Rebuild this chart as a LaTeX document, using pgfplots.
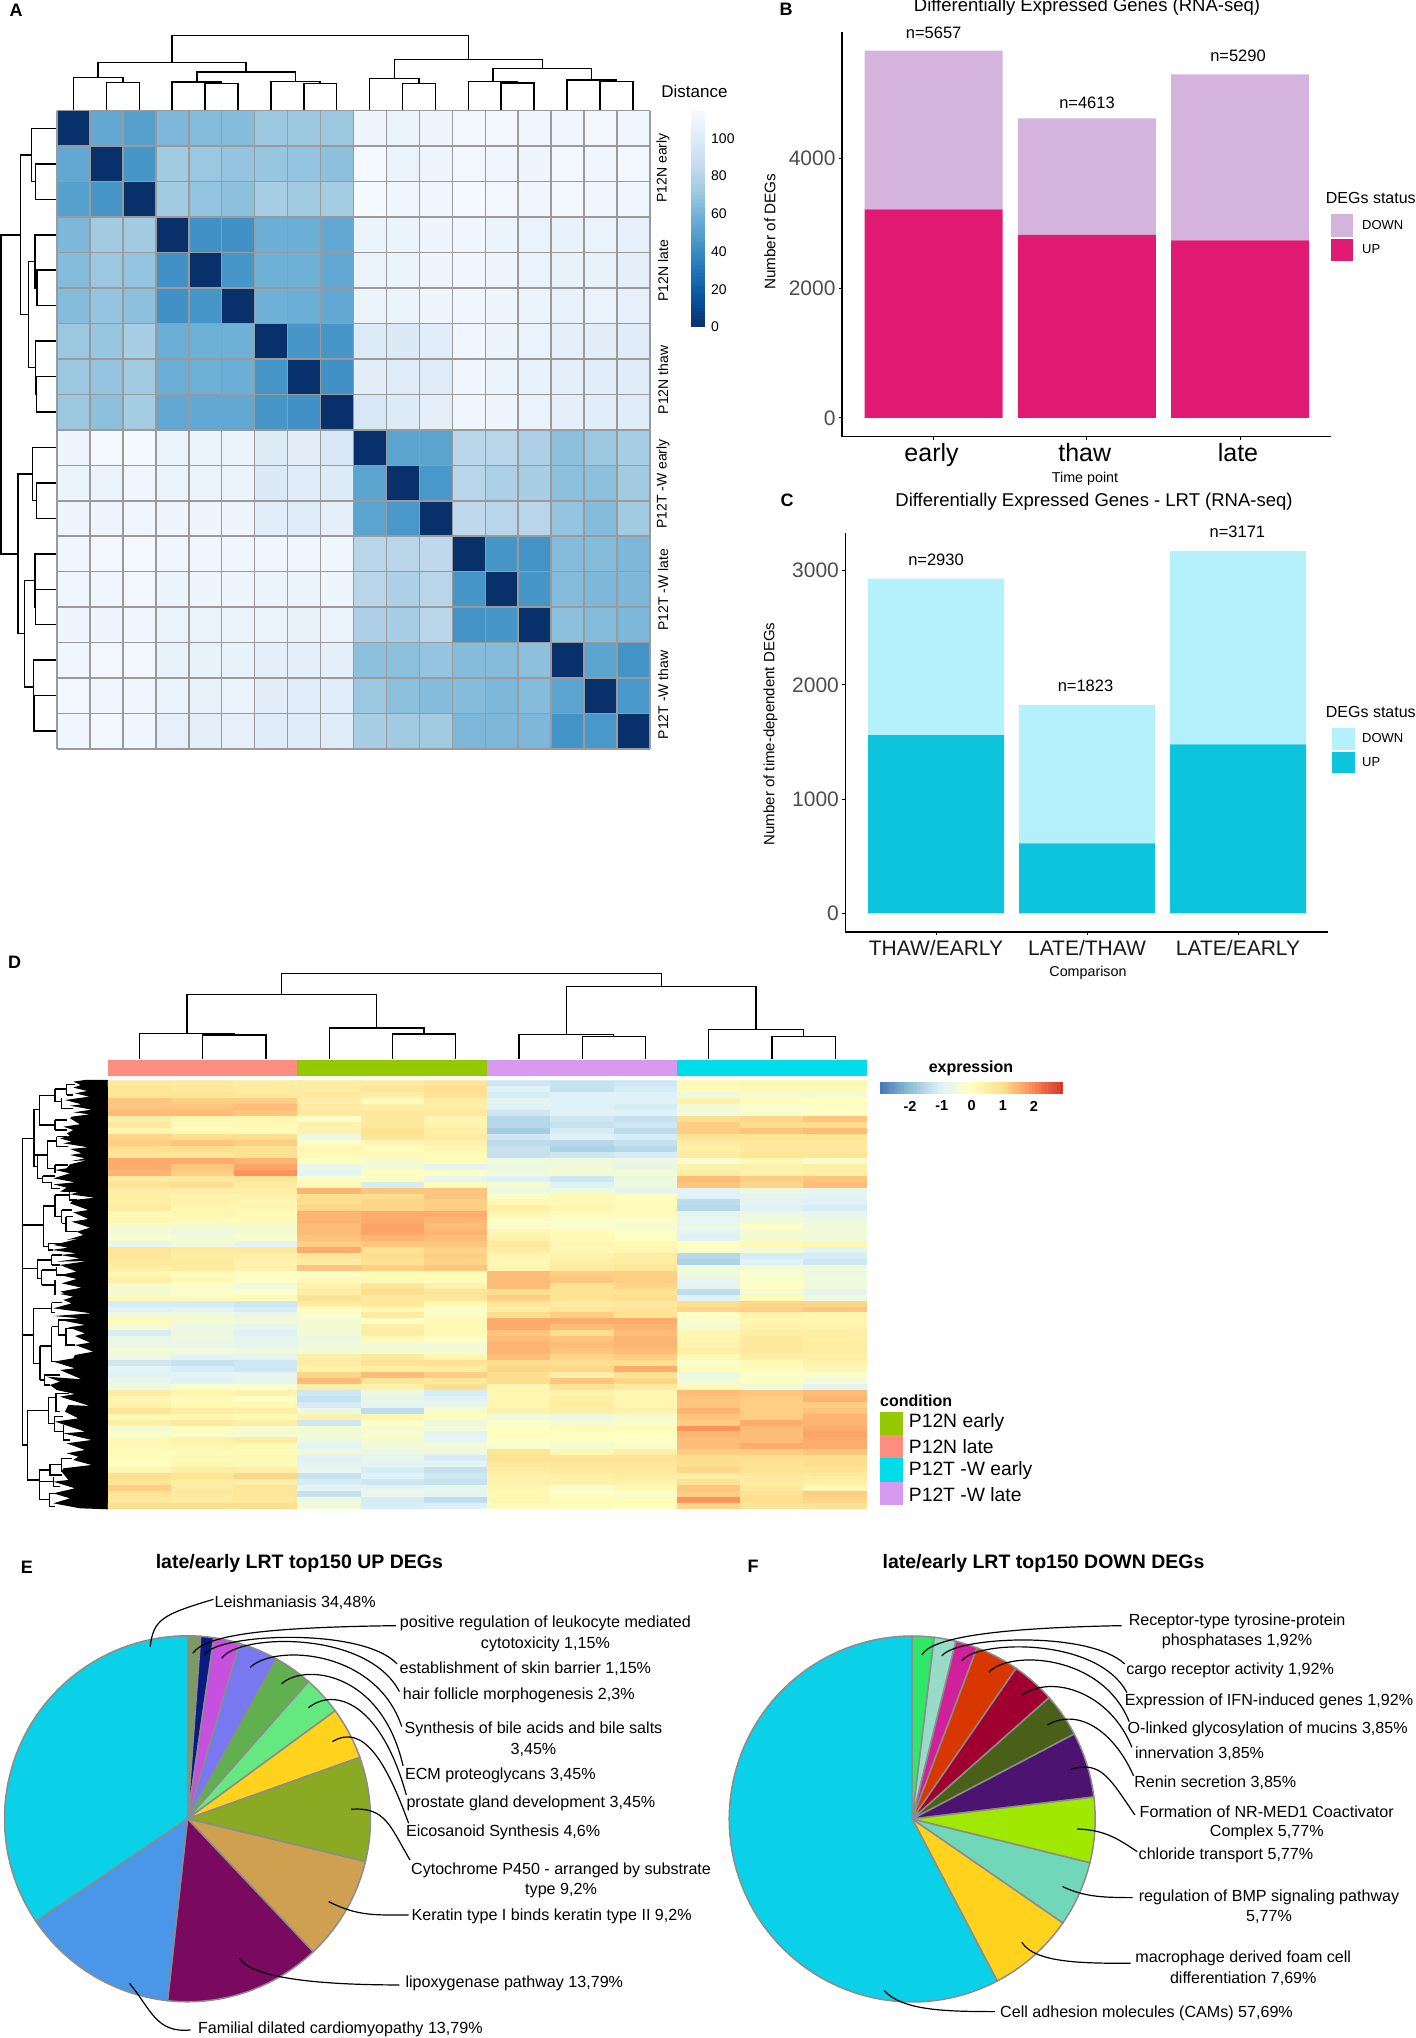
\documentclass[border=0pt]{standalone}
\usepackage{fontspec}
\setmainfont{Liberation Sans}
\usepackage{pgfplots}
\pgfplotsset{compat=1.18}
\newcommand\fs[1]{\fontsize{#1}{#1}\selectfont}

% colours
\definecolor{gridgrey}{HTML}{9A9A9A}
\definecolor{tickgrey}{HTML}{4D4D4D}
\definecolor{piegrey}{HTML}{8C8C8C}
\definecolor{upB}{HTML}{E01A72}
\definecolor{downB}{HTML}{D4B3DC}
\definecolor{upC}{HTML}{0CC5DC}
\definecolor{downC}{HTML}{B4F1FB}
\definecolor{annA}{HTML}{FC8D7F}
\definecolor{annB}{HTML}{94C800}
\definecolor{annC}{HTML}{D89AF0}
\definecolor{annD}{HTML}{00DCE8}
\definecolor{b0}{HTML}{08306B}\definecolor{b1}{HTML}{08519C}\definecolor{b2}{HTML}{2171B5}
\definecolor{b3}{HTML}{4292C6}\definecolor{b4}{HTML}{6BAED6}\definecolor{b5}{HTML}{9ECAE1}
\definecolor{b6}{HTML}{C6DBEF}\definecolor{b7}{HTML}{DEEBF7}\definecolor{b8}{HTML}{F7FBFF}
\definecolor{r0}{HTML}{4575B4}\definecolor{r1}{HTML}{91BFDB}\definecolor{r2}{HTML}{E0F3F8}
\definecolor{r3}{HTML}{FFFFBF}\definecolor{r4}{HTML}{FEE090}\definecolor{r5}{HTML}{FC8D59}
\definecolor{r6}{HTML}{D73027}
% pie colours
\definecolor{e1}{HTML}{7D9A60}\definecolor{e2}{HTML}{0A1A80}\definecolor{e3}{HTML}{C850E0}
\definecolor{e4}{HTML}{7878F0}\definecolor{e5}{HTML}{60B050}\definecolor{e6}{HTML}{66E880}
\definecolor{e7}{HTML}{FFD21E}\definecolor{e8}{HTML}{8AAA24}\definecolor{e9}{HTML}{CFA050}
\definecolor{e10}{HTML}{7A0A5F}\definecolor{e11}{HTML}{4A96E8}\definecolor{e12}{HTML}{0AD0E8}
\definecolor{f1}{HTML}{30E868}\definecolor{f2}{HTML}{98DCC8}\definecolor{f3}{HTML}{D0209A}
\definecolor{f4}{HTML}{D83800}\definecolor{f5}{HTML}{A00030}\definecolor{f6}{HTML}{486018}
\definecolor{f7}{HTML}{4C1470}\definecolor{f8}{HTML}{A0E800}\definecolor{f9}{HTML}{70D8B8}

\pgfplotsset{
  % place an axis by image pixels, y counted from the top
  pxat/.style 2 args={at={(#1pt,{(2038-#2)*1pt})}},
  colormap={blues}{color=(b0) color=(b1) color=(b2) color=(b3) color=(b4) color=(b5) color=(b6) color=(b7) color=(b8)},
  colormap={rdyl}{color=(r0) color=(r1) color=(r2) color=(r3) color=(r4) color=(r5) color=(r6)},
  barax/.style={
    scale only axis, ybar stacked, clip=false,
    axis x line*=bottom, axis y line*=left,
    axis line style={line width=1.5pt,-},
    tick align=outside, major tick length=3pt,
    tick style={black,line width=1pt},
    xtick={1,2,3}, scaled y ticks=false,
    /pgf/number format/1000 sep={},
    /pgf/number format/assume math mode=true,
    yticklabel style={font=\fs{21},text=tickgrey},
  },
  pieax/.style={
    scale only axis, hide axis, clip=false, width=366pt, height=366pt,
    xmin=-183,xmax=183,ymin=-183,ymax=183, anchor=center,
  },
  treeax/.style={
    anchor=north west,scale only axis,hide axis,clip=false,unbounded coords=jump,
    xmin=0,xmax=330,ymin=0,y dir=reverse,width=110pt,
  },
}

% distance matrix of panel A
\def\Amat{
{0,52,48,60,62,62,68,68,68,105,104,105,107,107,106,106,107,106},
{52,0,43,70,68,66,67,66,64,108,103,105,107,106,105,107,106,107},
{48,43,0,70,66,64,72,70,71,109,106,106,108,107,106,107,106,106},
{60,70,70,0,41,41,55,55,52,104,104,105,106,104,103,102,103,101},
{62,68,66,41,0,43,56,56,52,104,104,105,106,105,103,102,102,100},
{62,66,64,41,43,0,56,55,52,104,104,105,106,105,104,102,103,101},
{68,67,72,55,56,56,0,43,43,96,95,98,106,104,103,100,99,97},
{68,66,70,55,56,55,43,0,41,99,97,97,106,104,102,100,98,97},
{68,64,71,52,52,52,43,41,0,93,96,100,106,105,103,100,98,97},
{105,108,109,104,104,104,96,99,93,0,50,50,78,78,74,64,68,72},
{104,103,106,104,104,104,95,97,96,50,0,44,78,74,72,64,64,70},
{105,105,106,105,105,105,98,97,100,50,44,0,80,78,78,66,62,70},
{106,107,108,106,106,106,106,106,106,78,78,80,0,43,42,62,62,60},
{106,106,107,104,105,105,104,104,105,78,74,78,43,0,43,62,60,60},
{105,105,106,103,103,104,103,102,103,74,72,78,42,43,0,64,62,60},
{106,107,107,102,102,102,100,100,100,64,64,66,62,62,64,0,50,42},
{107,106,106,103,102,103,99,98,98,68,64,62,62,60,62,50,0,44},
{106,107,106,101,100,101,97,97,97,72,70,70,60,60,60,42,44,0}}

% expression matrix of panel D
\def\Dmat{
{.7,.7,.6,.6,.6,.8,-1.2,-1.3,-1.2,.2,.3,.3},
{.8,.7,.6,.6,.8,1.0,-1.0,-1.3,-1.1,.1,.2,.2},
{.8,.8,.7,.7,.5,.9,-1.1,-1.0,-1.0,-.5,-.3,-.3},
{1.3,1.2,1.2,.5,.1,.6,-.9,-1.0,-1.0,.4,.1,.0},
{1.3,1.3,1.4,.6,.5,.5,-1.0,-1.0,-1.1,-.4,-.2,-.1},
{1.4,1.4,1.3,.7,.7,.7,-1.2,-1.0,-1.0,-.5,-.2,-.1},
{.5,.3,.3,-.2,.7,.3,-1.5,-1.2,-1.3,1.0,1.1,1.3},
{.7,.1,.2,.4,.7,.4,-1.5,-1.3,-1.2,1.2,1.0,1.0},
{.3,.2,.1,.4,.9,.5,-1.7,-1.1,-1.4,1.2,1.3,1.4},
{1.1,1.0,1.0,-.6,.8,.6,-1.2,-1.0,-1.1,.9,.8,.8},
{1.2,1.3,1.2,-.1,.3,.4,-1.4,-1.5,-1.3,.6,.7,.7},
{1.0,1.0,.9,.3,.1,.3,-1.3,-1.6,-1.5,.5,.7,.7},
{.8,.8,.9,.2,.2,.1,-1.3,-1.2,-1.1,.6,.8,.8},
{1.6,1.6,1.5,.0,-.3,.1,-.5,-.5,-.6,-.2,.2,-.2},
{1.6,1.3,1.7,-.7,-.4,-.9,-.6,-.4,-.7,.4,.4,.5},
{1.5,1.2,1.9,-.9,-.1,-.1,-.5,-.4,-.4,.5,.4,.5},
{.6,.7,.8,-.2,.0,-.8,-1.0,-1.2,-.6,1.4,1.2,1.3},
{.9,1.0,.6,.2,-1.1,.1,-.3,-1.0,-.5,1.3,1.1,1.4},
{.5,.5,.5,1.5,1.3,1.3,-.6,-.5,-.9,-.9,-.6,-.8},
{.5,.4,.4,1.0,1.0,1.3,-.1,.2,.0,-1.0,-.8,-.9},
{.5,.4,.3,1.0,1.1,1.2,.2,.2,.1,-1.4,-.9,-1.0},
{.6,.3,.3,1.1,1.1,1.2,.5,.3,.2,-1.5,-1.0,-1.1},
{.2,.3,.1,1.5,1.6,1.6,.3,.1,.1,-.8,-.6,-.8},
{.3,.1,.1,1.5,1.6,1.5,-.1,-.2,-.2,-.8,-.5,-.6},
{-.3,-.3,-.3,1.4,1.7,1.4,-.2,-.2,-.3,-.7,-.1,-.5},
{-.4,-.6,-.3,1.4,1.7,1.5,.3,.1,-.1,-.9,-.4,-.4},
{-.2,-.3,-.2,1.3,1.5,1.4,.4,.2,.0,-1.0,-.3,-.5},
{-.8,-.5,-.9,1.2,1.3,1.3,.7,.3,.2,.0,.2,.3},
{.8,.7,.7,1.6,.9,1.1,.6,.3,.3,-.2,-.4,-.9},
{.8,.5,.5,.8,1.0,1.2,.3,.4,.6,-1.5,-1.1,-1.1},
{.7,.7,.4,.6,.9,1.1,.2,.5,.6,-1.6,-1.0,-1.2},
{.5,.6,.4,1.3,1.2,1.3,.3,.6,.8,-.5,-.4,-.5},
{.3,.1,-.1,-.1,.1,.1,1.4,1.2,1.2,-.5,-.2,-.6},
{.5,.2,-.1,.2,.1,.1,1.4,1.3,1.2,-.8,-.2,-.5},
{-.3,-.2,-.5,.4,.8,.4,1.4,.9,1.1,-.9,.0,-.5},
{-.3,-.2,-.2,.6,1.0,.8,1.0,.9,.9,-1.4,-.3,-.8},
{.2,.1,.1,.9,.7,.8,1.2,.9,1.0,-1.0,.1,-.6},
{-1.1,-1.1,-1.2,.6,.7,.2,.8,.6,.7,1.0,1.1,1.1},
{-1.0,-.9,-1.1,-.1,.2,-.2,.6,.8,.8,1.1,1.2,1.3},
{-.5,-.5,-.7,-.2,.6,-.1,1.0,1.2,.9,-.1,.4,.3},
{.1,-.3,-.4,-.4,-.1,.2,1.6,1.6,1.6,-.2,.3,.3},
{-.3,-.6,-.8,-.3,.5,.2,1.6,1.4,1.5,-.3,.4,.4},
{-1.1,-.6,-1.0,-.4,.6,.2,1.3,1.0,1.4,.3,.5,.5},
{-.7,-.6,-.8,-.6,.2,.0,1.4,1.3,1.5,.3,.7,.5},
{-.7,-.7,-.8,-.5,-.4,-.3,1.5,1.4,1.5,.4,.7,.6},
{-.4,-.4,-.5,-.4,-.4,-.4,1.5,1.3,1.4,.5,.7,.6},
{-.6,-.9,-.8,.5,.7,.3,1.4,1.1,1.2,.2,.5,.5},
{-1.2,-1.3,-1.2,.6,.9,.9,1.0,1.0,1.0,-.2,.2,.4},
{-.9,-1.1,-1.2,.4,.5,.6,1.1,1.1,1.6,.1,.1,.3},
{-1.0,-.9,-.8,1.1,1.4,1.2,1.0,.5,.9,-.6,-.2,-.2},
{-.7,-1.0,-.8,1.4,.8,.7,1.0,1.3,1.1,-.5,.0,-.4},
{-.6,-.2,-.2,.5,.4,1.0,.3,.9,.7,.1,-.5,-.9},
{.6,.3,.4,-1.2,-.6,-1.1,.3,.4,.3,1.4,1.3,1.4},
{.3,.1,-.1,-1.3,-.7,-1.0,.3,.5,.3,1.3,1.2,1.5},
{.4,.2,.2,-1.1,-.8,-.7,.3,.6,.3,1.3,1.2,1.2},
{.8,.6,.5,-.6,-1.4,-.3,.4,.5,.4,1.5,1.2,1.3},
{.2,.3,.2,.4,.3,.1,-.5,-.6,-.3,1.3,1.2,1.5},
{.5,.7,.5,-1.2,-.1,-.6,-.2,-.4,-.2,1.2,1.6,1.5},
{-.3,.0,-.3,-.3,-.3,-.4,.0,.1,.1,1.9,1.4,1.6},
{-.2,-.2,-.3,-.4,-.2,-.9,.1,.0,.0,1.5,1.4,1.7},
{.2,.4,.6,-.6,-.3,-.8,-.1,-.1,-.1,1.4,1.4,1.6},
{.2,.3,.2,-.9,-.5,-.4,-.2,-.3,-.2,1.4,1.6,1.6},
{.1,.1,.1,-.5,-.7,-.6,.8,.3,.5,1.2,1.2,1.3},
{.1,.2,.2,-1.0,-.8,-1.1,.9,.9,.9,1.0,1.0,1.0},
{.0,.3,.2,-.9,-.9,-.9,.8,.8,.8,1.0,.9,1.0},
{.3,.5,.5,-.8,-1.1,-1.3,.6,.7,.7,1.1,.9,.9},
{1.0,.8,1.1,-1.3,-1.0,-1.2,.4,.5,.6,.5,.7,.6},
{.8,.6,.5,-1.1,-1.2,-1.3,.4,.4,.4,.9,.6,.5},
{1.2,.6,.8,-.9,-.9,-.8,.3,-.2,.2,1.3,.7,.2},
{.8,.7,.8,-1.3,-.7,-.9,.2,.0,-.2,1.2,.9,1.2},
{.7,.6,.7,-.6,-1.1,-1.4,.3,.1,.1,1.9,1.0,1.1},
{1.0,1.0,1.0,-.4,-1.1,-1.0,.1,.1,.0,1.1,.8,.9}}

% list of (col,row) [value] from a matrix
\newcommand\matcoords[2]{%
  \gdef#2{}%
  \foreach \row [count=\r from 0] in #1 {%
    \foreach \v [count=\c from 0] in \row {\xdef#2{#2 (\c,\r) [\v]}}%
  }}
\matcoords{\Amat}{\Acoords}
\matcoords{\Dmat}{\Dcoords}

% cell borders of panel A
\gdef\Agrid{}
\foreach \k in {-0.5,0.5,...,17.5}{\xdef\Agrid{\Agrid (\k,-0.5)(\k,17.5)(nan,nan)(-0.5,\k)(17.5,\k)(nan,nan)}}

% pie slice: percentage, colour; angles run clockwise from the top
\newcommand\resetpie{\gdef\piecum{0}}
\newcommand\slice[2]{%
  \pgfmathsetmacro\aA{\piecum*3.6}%
  \pgfmathsetmacro\aB{(\piecum+#1)*3.6}%
  \pgfmathtruncatemacro\nst{ceil((\aB-\aA)/2)}%
  \pgfmathsetmacro\dA{(\aB-\aA)/\nst}%
  \gdef\pts{(0,0)}%
  \foreach \k in {0,...,\nst}{%
    \pgfmathsetmacro\aa{\aA+\dA*\k}%
    \pgfmathsetmacro\ptx{183*sin(\aa)}%
    \pgfmathsetmacro\pty{183*cos(\aa)}%
    \xdef\pts{\pts (\ptx,\pty)}}%
  \edef\tmp{\noexpand\addplot[fill=#2,draw=piegrey,line width=1.5pt] coordinates {\pts (0,0)};}%
  \tmp
  \pgfmathsetmacro\newcum{\piecum+#1}\xdef\piecum{\newcum}}

% one stretch of a colour key: vertical {x0}{x1}{ystart}{yend}{from}{to}
\newcommand\vseg[6]{\foreach \k in {0,...,9}{%
  \pgfmathsetmacro\mixp{95-10*\k}%
  \pgfmathsetmacro\ya{#3+(#4-#3)*\k/10}%
  \pgfmathsetmacro\yb{#3+(#4-#3)*(\k+1)/10-0.4}%
  \fill[#5!\mixp!#6] (#1,\ya) rectangle (#2,\yb);}}
\newcommand\hseg[6]{\foreach \k in {0,...,9}{%
  \pgfmathsetmacro\mixp{95-10*\k}%
  \pgfmathsetmacro\xa{#3+(#4-#3)*\k/10}%
  \pgfmathsetmacro\xb{#3+(#4-#3)*(\k+1)/10+0.4}%
  \fill[#5!\mixp!#6] (\xa,#1) rectangle (\xb,#2);}}

\begin{document}
\begin{tikzpicture}[font=\fs{15}]
\path[use as bounding box] (0pt,0pt) rectangle (1416pt,2038pt);

% ---- dendrograms in image pixels
\begin{axis}[at={(0pt,0pt)},anchor=south west,scale only axis,width=1416pt,height=2038pt,
  xmin=0,xmax=1416,ymin=0,ymax=2038,y dir=reverse,hide axis,clip=false,unbounded coords=jump]
\addplot[black,line width=1.5pt] coordinates {
(106.4,110)(106.4,82.7)(139.3,82.7)(139.3,110)(nan,nan)
(73.5,110)(73.5,77.3)(122.85,77.3)(122.85,82.7)(nan,nan)
(205.1,110)(205.1,83.3)(238,83.3)(238,110)(nan,nan)
(172.2,110)(172.2,82)(221.5,82)(221.5,83.3)(nan,nan)
(303.8,110)(303.8,83.7)(336.7,83.7)(336.7,110)(nan,nan)
(270.9,110)(270.9,81.7)(320.2,81.7)(320.2,83.7)(nan,nan)
(196.9,82)(196.9,72)(295.6,72)(295.6,81.7)(nan,nan)
(98.2,77.3)(98.2,62.7)(246.2,62.7)(246.2,72)(nan,nan)
(402.5,110)(402.5,83.3)(435.4,83.3)(435.4,110)(nan,nan)
(369.6,110)(369.6,78.7)(418.9,78.7)(418.9,83.3)(nan,nan)
(501.2,110)(501.2,83)(534,83)(534,110)(nan,nan)
(468.3,110)(468.3,81.7)(517.6,81.7)(517.6,83)(nan,nan)
(600,110)(600,81.7)(633,81.7)(633,110)(nan,nan)
(567,110)(567,80)(616.5,80)(616.5,81.7)(nan,nan)
(493,81.7)(493,68.3)(591.7,68.3)(591.7,80)(nan,nan)
(394.3,78.7)(394.3,59.3)(542.4,59.3)(542.4,68.3)(nan,nan)
(172.2,62.7)(172.2,35.7)(468.3,35.7)(468.3,59.3)(nan,nan)
(56,163.9)(35.6,163.9)(35.6,199.3)(56,199.3)(nan,nan)
(56,128.4)(31.7,128.4)(31.7,181.6)(35.6,181.6)(nan,nan)
(56,270.2)(37,270.2)(37,305.7)(56,305.7)(nan,nan)
(56,234.8)(35,234.8)(35,288)(37,288)(nan,nan)
(56,376.6)(36.5,376.6)(36.5,412)(56,412)(nan,nan)
(56,341.1)(35.5,341.1)(35.5,394.3)(36.5,394.3)(nan,nan)
(35,261.4)(28.3,261.4)(28.3,367.7)(35.5,367.7)(nan,nan)
(31.7,155)(20.5,155)(20.5,314.5)(28.3,314.5)(nan,nan)
(56,482.9)(36.5,482.9)(36.5,518.4)(56,518.4)(nan,nan)
(56,447.5)(32.6,447.5)(32.6,500.6)(36.5,500.6)(nan,nan)
(56,589.3)(35.6,589.3)(35.6,624.7)(56,624.7)(nan,nan)
(56,553.8)(35,553.8)(35,607)(35.6,607)(nan,nan)
(56,695.6)(34,695.6)(34,731)(56,731)(nan,nan)
(56,660.2)(33.6,660.2)(33.6,713.3)(34,713.3)(nan,nan)
(35,580.4)(24.4,580.4)(24.4,686.8)(33.6,686.8)(nan,nan)
(32.6,474)(18,474)(18,633.6)(24.4,633.6)(nan,nan)
(20.5,234.8)(1,234.8)(1,554)(18,554)
};
\addplot[black,line width=1.3pt] coordinates {
(202.7,1058.7)(202.7,1035)(265.9,1035)(265.9,1058.7)(nan,nan)
(139.4,1058.7)(139.4,1033.7)(234.3,1033.7)(234.3,1035)(nan,nan)
(392.4,1058.7)(392.4,1034)(455.7,1034)(455.7,1058.7)(nan,nan)
(329.2,1058.7)(329.2,1028)(424,1028)(424,1034)(nan,nan)
(186.9,1033.7)(186.9,994.7)(376.6,994.7)(376.6,1028)(nan,nan)
(582.2,1058.7)(582.2,1036.3)(645.4,1036.3)(645.4,1058.7)(nan,nan)
(518.9,1058.7)(518.9,1034.7)(613.8,1034.7)(613.8,1036.3)(nan,nan)
(771.9,1058.7)(771.9,1036.3)(835.2,1036.3)(835.2,1058.7)(nan,nan)
(708.7,1058.7)(708.7,1029.3)(803.5,1029.3)(803.5,1036.3)(nan,nan)
(566.4,1034.7)(566.4,986.3)(756,986.3)(756,1029.3)(nan,nan)
(281.7,994.7)(281.7,973.3)(661.2,973.3)(661.2,986.3)
};
\end{axis}

% ---- panel D row dendrogram, upper part: units are 1/3 px from (10,1075)
\begin{axis}[treeax,pxat={10}{1075},height=220pt,ymax=660]
\addplot[black,fill=black,draw=none] coordinates {
(295,15)(225,15)(190,20)(212,30)(190,38)(232,48)(195,55)(238,65)(165,75)(215,88)(180,92)(245,104)
(190,112)(240,118)(185,125)(180,130)(210,148)(160,155)(190,165)(170,175)(180,182)(150,190)(185,200)
(160,205)(235,217)(180,222)(215,235)(180,240)(225,250)(185,258)(230,256)(180,268)(170,280)(135,285)
(180,295)(130,310)(195,322)(130,328)(170,338)(150,350)(205,352)(180,358)(230,365)(255,368)(190,375)
(180,385)(235,405)(190,412)(235,432)(185,440)(240,458)(200,470)(220,480)(170,495)(210,490)(130,510)
(175,518)(125,525)(200,535)(150,540)(210,550)(140,560)(235,558)(150,570)(200,590)(150,600)(200,612)
(155,625)(215,638)(150,650)(180,660)(295,660)};
\addplot[black,line width=1.5pt] coordinates {
(37,190)(72,190)(nan,nan)(72,103)(72,275)(nan,nan)(72,103)(88,103)(nan,nan)(88,62)(88,150)(nan,nan)
(88,62)(135,62)(nan,nan)(135,42)(135,80)(nan,nan)(135,42)(170,42)(nan,nan)(170,28)(170,60)(nan,nan)
(170,28)(195,28)(nan,nan)(170,60)(190,60)(nan,nan)(135,80)(155,80)(nan,nan)(155,70)(155,100)(190,100)(nan,nan)
(88,150)(135,150)(nan,nan)(135,135)(135,165)(nan,nan)(135,135)(170,135)(nan,nan)(135,165)(170,165)(nan,nan)
(72,240)(112,240)(nan,nan)(112,198)(112,280)(nan,nan)(112,198)(140,198)(nan,nan)(140,185)(140,215)(nan,nan)
(140,185)(170,185)(nan,nan)(140,215)(175,215)(nan,nan)
(112,280)(135,280)(nan,nan)(135,270)(135,295)(nan,nan)(135,270)(175,270)(nan,nan)
(72,275)(82,275)(nan,nan)(82,240)(82,310)(98,310)(nan,nan)(98,303)(98,322)(125,322)(nan,nan)(98,303)(135,303)(nan,nan)(125,322)(125,340)(150,340)(nan,nan)
(37,450)(100,450)(nan,nan)(100,393)(100,515)(nan,nan)(100,393)(135,393)(nan,nan)(135,360)(135,425)(nan,nan)
(135,360)(178,360)(nan,nan)(178,350)(178,375)(200,375)(nan,nan)(178,350)(210,350)(nan,nan)
(135,425)(155,425)(nan,nan)(155,405)(155,445)(nan,nan)(155,405)(185,405)(nan,nan)(155,445)(168,445)(nan,nan)
(168,425)(168,470)(nan,nan)(168,425)(190,425)(nan,nan)(168,470)(200,470)(nan,nan)
(100,515)(115,515)(nan,nan)(115,505)(115,525)(130,525)(nan,nan)(115,505)(170,505)(nan,nan)
(37,580)(82,580)(nan,nan)(82,555)(82,610)(nan,nan)(82,555)(125,555)(nan,nan)(125,540)(125,570)(nan,nan)
(125,540)(155,540)(nan,nan)(125,570)(150,570)(nan,nan)(82,610)(95,610)(nan,nan)(95,585)(95,630)(nan,nan)
(95,585)(140,585)(nan,nan)(140,575)(140,600)(165,600)(nan,nan)(95,630)(135,630)(nan,nan)(135,615)(135,660)(nan,nan)
(37,190)(37,660)
};
\end{axis}

% ---- panel D row dendrogram, lower part: units are 1/3 px from (10,1290)
\begin{axis}[treeax,pxat={10}{1290},height=225pt,ymax=675]
\addplot[black,fill=black,draw=none] coordinates {
(295,0)(190,5)(150,12)(190,20)(160,30)(185,40)(130,55)(245,70)(130,78)(210,85)(150,90)(225,105)
(175,112)(225,130)(195,138)(240,158)(195,165)(250,185)(195,195)(190,205)(130,215)(195,235)(150,240)
(215,268)(110,260)(150,275)(120,285)(140,300)(195,312)(150,320)(240,348)(175,345)(165,365)(205,385)
(135,395)(225,425)(160,430)(245,450)(170,460)(225,480)(170,490)(205,500)(190,510)(245,525)(160,535)
(155,545)(175,570)(130,575)(195,595)(130,610)(180,625)(130,640)(210,655)(295,658)};
\addplot[black,line width=1.5pt] coordinates {
(37,135)(70,135)(nan,nan)(70,55)(70,220)(nan,nan)(70,55)(125,55)(nan,nan)(125,38)(125,68)(135,68)(nan,nan)(125,38)(155,38)(nan,nan)
(70,220)(90,220)(nan,nan)(90,168)(90,270)(nan,nan)(90,168)(125,168)(nan,nan)(125,110)(125,215)(nan,nan)(125,110)(145,110)(nan,nan)
(145,90)(145,135)(nan,nan)(145,90)(200,90)(nan,nan)(145,135)(168,135)(nan,nan)(168,115)(168,165)(195,165)(nan,nan)(168,115)(195,115)(nan,nan)
(125,215)(150,215)(nan,nan)(90,270)(103,270)(nan,nan)(103,255)(103,285)(120,285)(nan,nan)(103,255)(150,255)(nan,nan)
(37,465)(52,465)(nan,nan)(52,362)(52,570)(nan,nan)(52,362)(115,362)(nan,nan)(115,323)(115,400)(nan,nan)
(115,323)(138,323)(nan,nan)(138,310)(138,365)(150,365)(nan,nan)(138,310)(178,310)(nan,nan)
(115,400)(133,400)(nan,nan)(133,380)(133,425)(160,425)(nan,nan)(133,380)(160,380)(nan,nan)(160,405)(160,450)(180,450)(nan,nan)
(52,570)(88,570)(nan,nan)(88,540)(88,628)(nan,nan)(88,540)(120,540)(nan,nan)(120,523)(120,555)(155,555)(nan,nan)
(120,523)(155,523)(nan,nan)(155,505)(155,545)(nan,nan)(155,505)(185,505)(nan,nan)
(88,628)(118,628)(nan,nan)(118,610)(118,650)(135,650)(nan,nan)(118,610)(150,610)(nan,nan)
(88,575)(130,575)(nan,nan)(130,560)(130,590)(150,590)(nan,nan)
(37,0)(37,465)
};
\end{axis}

% ---- panel A heatmap
\begin{axis}[pxat={57}{110.7},anchor=north west,scale only axis,width=593pt,height=638.3pt,
  xmin=-0.5,xmax=17.5,ymin=-0.5,ymax=17.5,y dir=reverse,hide axis,clip=false,unbounded coords=jump,
  colormap name=blues,point meta min=0,point meta max=110]
\edef\tmp{\noexpand\addplot[matrix plot*,mesh/cols=18,point meta=explicit] coordinates {\Acoords};}
\tmp
\edef\tmp{\noexpand\addplot[gridgrey,line width=1.5pt] coordinates {\Agrid};}
\tmp
\end{axis}

% ---- panel D heatmap
\begin{axis}[pxat={107.8}{1080.7},anchor=north west,scale only axis,width=759pt,height=428.3pt,
  xmin=-0.5,xmax=11.5,ymin=-0.5,ymax=71.5,y dir=reverse,hide axis,clip=true,
  colormap name=rdyl,point meta min=-2.95,point meta max=2.95]
\edef\tmp{\noexpand\addplot[matrix plot*,mesh/cols=12,point meta=explicit] coordinates {\Dcoords};}
\tmp
\end{axis}

% ---- panel B
\begin{axis}[barax,pxat={842}{32.3},anchor=north west,width=489pt,height=404.4pt,
  bar width=138pt,xmin=0.4025,xmax=3.594,ymin=-288,ymax=5940,
  ytick={0,2000,4000},xticklabels={early,thaw,late},
  xticklabel style={font=\fs{25},xshift=-2pt}]
\addplot[fill=upB,draw=none] coordinates {(1,3214)(2,2819)(3,2737)};
\addplot[fill=downB,draw=none] coordinates {(1,2443)(2,1794)(3,2553)};
\end{axis}

% ---- panel C
\begin{axis}[barax,pxat={845.4}{532.7},anchor=north west,width=482.6pt,height=399.3pt,
  bar width=136pt,xmin=0.4,xmax=3.596,ymin=-164,ymax=3333,
  ytick={0,1000,2000,3000},xticklabels={THAW/EARLY,LATE/THAW,LATE/EARLY},
  xticklabel style={font=\fs{21},text=black!90,yshift=-2pt}]
\addplot[fill=upC,draw=none] coordinates {(1,1559)(2,613)(3,1480)};
\addplot[fill=downC,draw=none] coordinates {(1,1371)(2,1210)(3,1691)};
\end{axis}

% ---- panel E pie
\begin{axis}[pieax,pxat={187.5}{1818.8}]
\resetpie
\slice{1.15}{e1}
\slice{1.15}{e2}
\slice{2.3}{e3}
\slice{3.45}{e4}
\slice{3.45}{e5}
\slice{3.45}{e6}
\slice{4.6}{e7}
\slice{9.2}{e8}
\slice{9.2}{e9}
\slice{13.79}{e10}
\slice{13.79}{e11}
\slice{34.48}{e12}
\end{axis}

% ---- panel F pie
\begin{axis}[pieax,pxat={912.2}{1819}]
\resetpie
\slice{1.92}{f1}
\slice{1.92}{f2}
\slice{1.92}{f3}
\slice{3.85}{f4}
\slice{3.85}{f5}
\slice{3.85}{f6}
\slice{5.77}{f7}
\slice{5.77}{f8}
\slice{5.77}{f9}
\slice{7.69}{e7}
\slice{57.69}{e12}
\end{axis}

% ---- texts and small keys, in image pixels
\begin{scope}[shift={(0pt,2038pt)},x=1pt,y=-1pt]
\foreach \t/\x/\y in {A/16/10,B/786/9,C/787/500,D/14.6/962,E/27/1567,F/753/1566}
  \node[font=\fs{18}\bfseries] at (\x,\y) {\t};

% panel A key and row names
\node[font=\fs{17}] at (694.5,91.7) {Distance};
\vseg{690.7}{705}{326.7}{299.8}{b0}{b1}
\vseg{690.7}{705}{299.8}{273}{b1}{b2}
\vseg{690.7}{705}{273}{246.1}{b2}{b3}
\vseg{690.7}{705}{246.1}{219.2}{b3}{b4}
\vseg{690.7}{705}{219.2}{192.3}{b4}{b5}
\vseg{690.7}{705}{192.3}{165.4}{b5}{b6}
\vseg{690.7}{705}{165.4}{138.6}{b6}{b7}
\vseg{690.7}{705}{138.6}{111.7}{b7}{b8}
\foreach \t/\y in {100/139,80/176,60/214,40/252,20/289.5,0/327}
  \node[font=\fs{14},anchor=west,inner sep=0pt] at (711,\y) {\t};
\foreach \t/\y in {P12N early/168,P12N late/270.7,P12N thaw/380,P12T -W early/484,P12T -W late/590,P12T -W thaw/695}
  \node[font=\fs{14},rotate=90] at (663,\y) {\t};

% panel B
\node[font=\fs{18.5}] at (1087,7) {Differentially Expressed Genes (RNA-seq)};
\foreach \t/\x/\y in {n=5657/933.6/33,n=4613/1087/102.7,n=5290/1238/56}
  \node[font=\fs{16.5}] at (\x,\y) {\t};
\node[font=\fs{15.3},rotate=90] at (770,231.7) {Number of DEGs};
\node[font=\fs{14.3}] at (1085,479) {Time point};
\node[font=\fs{16},anchor=west,inner sep=0pt] at (1325.7,198) {DEGs status};
\fill[downB] (1331,214) rectangle (1353,237);
\fill[upB] (1331,239) rectangle (1353,261);
\node[font=\fs{13},anchor=west,inner sep=0pt] at (1362,225) {DOWN};
\node[font=\fs{13},anchor=west,inner sep=0pt] at (1362,249) {UP};

% panel C
\node[font=\fs{18.5}] at (1094,502) {Differentially Expressed Genes - LRT (RNA-seq)};
\foreach \t/\x/\y in {n=2930/936/560,n=1823/1085.5/686,n=3171/1237.4/532}
  \node[font=\fs{16.5}] at (\x,\y) {\t};
\node[font=\fs{15},rotate=90] at (770.5,734) {Number of time-dependent DEGs};
\node[font=\fs{14.3}] at (1088,973) {Comparison};
\node[font=\fs{16},anchor=west,inner sep=0pt] at (1325.7,711.7) {DEGs status};
\fill[downC] (1332.4,727.7) rectangle (1354.6,750);
\fill[upC] (1332.4,751.7) rectangle (1354.6,773);
\node[font=\fs{13},anchor=west,inner sep=0pt] at (1362,737.7) {DOWN};
\node[font=\fs{13},anchor=west,inner sep=0pt] at (1362,761.7) {UP};

% panel D annotation bar and keys
\fill[annA] (107.8,1060) rectangle (296.6,1076);
\fill[annB] (296.6,1060) rectangle (486.5,1076);
\fill[annC] (486.5,1060) rectangle (677,1076);
\fill[annD] (677,1060) rectangle (866.8,1076);
\node[font=\fs{16}\bfseries] at (971,1068) {expression};
\hseg{1082}{1094}{880}{910.5}{r0}{r1}
\hseg{1082}{1094}{910.5}{941}{r1}{r2}
\hseg{1082}{1094}{941}{971.4}{r2}{r3}
\hseg{1082}{1094}{971.4}{1001.8}{r3}{r4}
\hseg{1082}{1094}{1001.8}{1032.3}{r4}{r5}
\hseg{1082}{1094}{1032.3}{1062.7}{r5}{r6}
\foreach \t/\x in {-2/910,-1/941.7,0/971.7,1/1003,2/1034}
  \node[font=\fs{14.5}\bfseries] at (\x,1106) {\t};
\node[font=\fs{16}\bfseries,anchor=west,inner sep=0pt] at (880,1400.7) {condition};
\fill[annB] (880,1411.7) rectangle (903.3,1435);
\fill[annA] (880,1435) rectangle (903.3,1458.3);
\fill[annD] (880,1458.3) rectangle (903.3,1481.7);
\fill[annC] (880,1481.7) rectangle (903.3,1504.7);
\foreach \t/\y in {P12N early/1422.7,P12N late/1446.7,P12T -W early/1471,P12T -W late/1495}
  \node[font=\fs{19.3},anchor=west,inner sep=0pt] at (908.7,\y) {\t};

% panel E labels, in units of the crop
\begin{scope}[shift={(0,1540)},x=0.4591pt,y=-0.3333pt]
\node[font=\fs{19.5}\bfseries] at (652,70) {late/early LRT top150 UP DEGs};
\draw[black,line width=1.2pt]
 (327,320) .. controls (335,240) and (350,225) .. (465,178)
 (420,340) .. controls (450,280) and (600,262) .. (862,257)
 (445,345) .. controls (470,280) and (790,260) .. (865,372)
 (483,355) .. controls (520,280) and (800,270) .. (870,455)
 (545,382) .. controls (600,310) and (820,330) .. (875,560)
 (613,432) .. controls (660,370) and (830,390) .. (878,678)
 (672,503) .. controls (730,440) and (830,490) .. (885,765)
 (724,605) .. controls (790,550) and (840,660) .. (890,850)
 (765,808) .. controls (840,800) and (850,860) .. (893,960)
 (716,1085) .. controls (780,1130) and (820,1125) .. (890,1125)
 (522,1255) .. controls (550,1320) and (720,1335) .. (870,1335)
 (282,1330) .. controls (330,1410) and (340,1480) .. (415,1470);
\tikzset{lab/.style={font=\fs{16.1},anchor=west,inner sep=0pt},cen/.style={font=\fs{16.1},inner sep=0pt}}
\node[lab] at (467,187) {Leishmaniasis 34,48\%};
\node[cen] at (1188,250) {positive regulation of leukocyte mediated};
\node[cen] at (1188,312) {cytotoxicity 1,15\%};
\node[lab] at (870,387) {establishment of skin barrier 1,15\%};
\node[lab] at (877,465) {hair follicle morphogenesis 2,3\%};
\node[cen] at (1162,569) {Synthesis of bile acids and bile salts};
\node[cen] at (1162,631) {3,45\%};
\node[lab] at (882,706) {ECM proteoglycans 3,45\%};
\node[lab] at (885,790) {prostate gland development 3,45\%};
\node[lab] at (884,877) {Eicosanoid Synthesis 4,6\%};
\node[cen] at (1222,990) {Cytochrome P450 - arranged by substrate};
\node[cen] at (1222,1052) {type 9,2\%};
\node[lab] at (896,1128) {Keratin type I binds keratin type II 9,2\%};
\node[lab] at (883,1331) {lipoxygenase pathway 13,79\%};
\node[lab] at (431,1468) {Familial dilated cardiomyopathy 13,79\%};
\end{scope}

% panel F labels, in units of the crop
\begin{scope}[shift={(720,1540)},x=0.4438pt,y=-0.3333pt]
\node[font=\fs{19.5}\bfseries] at (729,70) {late/early LRT top150 DOWN DEGs};
\draw[black,line width=1.2pt]
 (455,345) .. controls (480,280) and (700,262) .. (905,257)
 (500,348) .. controls (530,290) and (830,270) .. (912,372)
 (545,362) .. controls (580,300) and (850,290) .. (917,458)
 (606,397) .. controls (650,330) and (860,340) .. (922,545)
 (680,466) .. controls (750,400) and (880,460) .. (928,622)
 (738,555) .. controls (810,500) and (890,580) .. (932,708)
 (790,688) .. controls (860,660) and (880,720) .. (935,825)
 (805,867) .. controls (870,870) and (900,900) .. (940,935)
 (772,1040) .. controls (820,1070) and (860,1073) .. (930,1073)
 (680,1207) .. controls (710,1270) and (820,1270) .. (925,1270)
 (370,1352) .. controls (410,1410) and (500,1415) .. (620,1415);
\tikzset{lab/.style={font=\fs{16.1},anchor=west,inner sep=0pt},cen/.style={font=\fs{16.1},inner sep=0pt}}
\node[cen] at (1165,243) {Receptor-type tyrosine-protein};
\node[cen] at (1165,303) {phosphatases 1,92\%};
\node[lab] at (915,392) {cargo receptor activity 1,92\%};
\node[lab] at (912,483) {Expression of IFN-induced genes 1,92\%};
\node[lab] at (918,568) {O-linked glycosylation of mucins 3,85\%};
\node[lab] at (935,641) {innervation 3,85\%};
\node[lab] at (933,727) {Renin secretion 3,85\%};
\node[cen] at (1232,815) {Formation of NR-MED1 Coactivator};
\node[cen] at (1232,876) {Complex 5,77\%};
\node[lab] at (943,945) {chloride transport 5,77\%};
\node[cen] at (1237,1071) {regulation of BMP signaling pathway};
\node[cen] at (1237,1132) {5,77\%};
\node[cen] at (1179,1255) {macrophage derived foam cell};
\node[cen] at (1179,1316) {differentiation 7,69\%};
\node[lab] at (631,1420) {Cell adhesion molecules (CAMs) 57,69\%};
\end{scope}
\end{scope}
\end{tikzpicture}
\end{document}
